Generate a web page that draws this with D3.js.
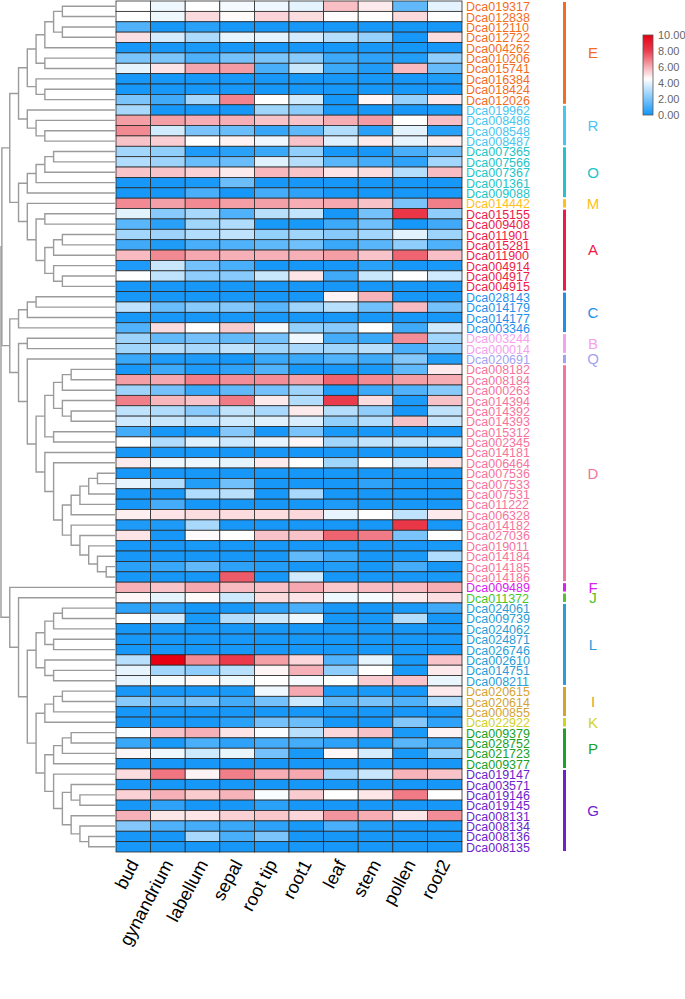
<!DOCTYPE html>
<html><head><meta charset="utf-8">
<script src="https://cdn.jsdelivr.net/npm/d3@7"></script>
<style>html,body{margin:0;padding:0;background:#fff;}svg{display:block;font-family:"Liberation Sans",Arial,sans-serif;}</style>
</head><body>
<svg id="chart" width="685" height="999"></svg>
<script>
const genes = ["Dca019317","Dca012838","Dca012110","Dca012722","Dca004262","Dca010206","Dca015741","Dca016384","Dca018424","Dca012026","Dca019962","Dca008486","Dca008548","Dca008487","Dca007365","Dca007566","Dca007367","Dca001361","Dca009088","Dca014442","Dca015155","Dca009408","Dca011901","Dca015281","Dca011900","Dca004914","Dca004917","Dca004915","Dca028143","Dca014179","Dca014177","Dca003346","Dca003244","Dca000014","Dca020691","Dca008182","Dca008184","Dca000263","Dca014394","Dca014392","Dca014393","Dca015312","Dca002345","Dca014181","Dca006464","Dca007536","Dca007533","Dca007531","Dca011222","Dca006328","Dca014182","Dca027036","Dca019011","Dca014184","Dca014185","Dca014186","Dca009489","Dca011372","Dca024061","Dca009739","Dca024062","Dca024871","Dca026746","Dca002610","Dca014751","Dca008211","Dca020615","Dca020614","Dca000855","Dca022922","Dca009379","Dca028752","Dca021723","Dca009377","Dca019147","Dca003571","Dca019146","Dca019145","Dca008131","Dca008134","Dca008136","Dca008135"];
const tissues = ["bud","gynandrium","labellum","sepal","root tip","root1","leaf","stem","pollen","root2"];
const groupNames = ["E","R","O","M","A","C","B","Q","D","F","J","L","I","K","P","G"];
const groupSizes = [10,4,5,1,8,4,2,1,21,1,1,8,3,1,4,8];
const groupColors = ["#F46C20","#48C6F0","#22C4C8","#FFC018","#EE1B48","#1F8FEA","#F6A0EE","#A2A2F2","#F7739B","#D820F2","#4CC42A","#2A9DD6","#D5A430","#D2D21E","#20A024","#6E22CC"];
const legendTicks = [0,2,4,6,8,10];
const expression = [
[4.5,4.2,4.5,4.3,4.2,4.0,5.7,4.9,1.5,4.0],
[4.5,4.2,5.2,4.6,5.3,5.15,4.55,4.5,5.2,4.5],
[1.2,0.1,0.46,0.1,0.1,0.1,0.1,0.1,0.05,0.1],
[5.1,3.7,2.9,4.06,4.0,3.7,3.1,2.5,0.1,5.15],
[0.1,0.1,0.15,0.1,0.1,0.1,0.1,0.1,0.05,0.1],
[1.97,2.0,1.14,1.86,2.0,2.24,0.8,0.53,0.3,2.35],
[4.03,5.0,6.14,6.33,1.06,3.46,0.8,0.27,5.78,1.6],
[0.1,0.1,0.1,0.1,0.1,0.1,0.1,0.1,0.1,0.25],
[0.1,0.1,0.1,0.1,0.1,0.1,0.1,0.1,0.1,0.1],
[1.97,0.87,2.8,6.75,4.5,3.6,0.1,4.67,2.5,4.93],
[2.85,0.1,0.1,0.1,2.7,2.3,0.1,0.1,0.1,0.15],
[6.3,6.3,6.04,6.0,5.6,5.6,6.04,6.33,4.5,5.68],
[6.65,3.6,1.97,1.67,0.68,1.44,3.0,0.46,3.97,0.46],
[5.63,5.4,4.5,4.74,4.22,5.6,3.87,4.9,4.03,4.82],
[2.75,2.4,0.23,0.46,0.76,2.4,0.1,0.1,1.06,1.7],
[3.0,2.66,1.67,1.67,3.91,3.1,1.37,0.95,0.53,2.75],
[5.6,5.6,5.36,4.9,5.85,5.6,5.0,5.16,3.1,5.75],
[0.1,0.1,0.15,1.7,0.1,0.1,0.1,0.1,0.1,0.1],
[0.1,0.1,1.06,0.1,0.95,0.53,0.1,0.1,0.1,0.15],
[6.65,6.26,6.65,6.3,6.26,6.04,6.12,5.63,1.97,6.84],
[3.97,2.24,2.85,1.18,3.15,3.36,0.1,1.86,8.23,2.35],
[1.37,0.46,2.7,3.0,0.15,0.15,0.8,1.78,0.1,0.87],
[2.75,2.66,3.05,3.29,2.47,2.7,2.24,2.75,3.97,2.66],
[0.87,0.25,1.06,1.18,1.48,1.78,0.76,1.37,2.35,1.14],
[5.78,6.65,6.12,5.98,5.98,5.98,6.3,5.6,7.32,5.68],
[0.23,3.46,1.86,1.06,0.1,0.1,0.1,0.46,0.1,0.15],
[4.5,3.29,2.35,2.24,3.46,5.0,0.87,3.46,4.5,3.59],
[0.1,0.1,0.1,0.1,0.1,0.1,0.1,0.1,0.1,0.1],
[0.1,0.1,0.1,0.1,0.1,0.1,4.7,5.93,0.1,0.1],
[3.29,1.67,2.24,2.16,1.37,2.66,3.15,1.78,5.78,1.86],
[0.1,0.1,0.1,0.1,0.1,0.1,0.1,0.1,0.1,0.1],
[1.18,5.16,4.5,5.46,4.31,2.47,2.24,4.5,0.87,3.59],
[2.66,1.52,1.86,1.52,1.86,4.22,0.95,0.76,6.58,2.75],
[2.7,3.1,2.85,3.29,2.7,2.85,2.7,3.15,1.06,2.24],
[0.76,0.23,0.23,0.1,0.76,0.76,1.18,0.8,2.16,0.3],
[0.1,0.8,0.23,0.53,1.18,0.1,0.1,0.15,1.48,4.9],
[6.3,6.12,6.84,6.58,6.58,6.26,7.32,6.65,6.3,6.04],
[2.66,1.86,0.76,1.52,1.86,2.66,0.23,0.8,1.18,2.24],
[6.84,5.85,5.6,6.93,4.9,3.05,8.05,5.16,0.23,5.63],
[3.29,3.0,2.24,3.29,2.85,4.9,3.1,2.35,0.1,3.29],
[3.59,3.46,3.36,3.6,3.91,3.8,2.47,3.05,5.63,3.46],
[0.95,0.1,0.1,2.16,0.1,1.97,0.15,0.1,0.1,0.1],
[4.5,3.0,3.91,3.55,4.06,4.67,2.75,3.36,3.36,3.55],
[0.1,0.1,0.1,0.1,0.1,0.1,0.1,0.1,0.1,0.1],
[4.9,4.22,4.22,4.03,4.9,4.5,2.7,4.5,3.59,5.0],
[0.1,0.1,0.1,0.1,0.1,0.1,0.1,0.1,0.1,0.1],
[4.06,3.0,0.3,1.78,0.1,0.1,0.1,0.53,0.1,0.1],
[0.1,0.1,3.0,3.15,0.1,2.85,0.1,0.1,0.1,0.1],
[0.1,0.95,0.1,0.1,0.1,0.1,0.23,0.1,0.1,0.1],
[4.82,5.0,5.16,5.16,5.16,5.23,4.06,4.5,3.29,4.9],
[0.23,0.23,2.85,0.1,0.1,0.1,0.1,0.1,8.2,0.1],
[5.0,0.1,4.57,4.5,5.63,5.63,7.32,6.93,1.97,4.5],
[0.1,0.1,0.15,0.1,0.1,0.1,0.15,0.1,0.1,0.15],
[0.1,0.1,0.1,0.1,0.1,1.52,0.76,0.1,0.15,3.0],
[0.46,0.76,1.52,0.53,0.3,0.1,0.3,0.1,0.95,0.1],
[0.1,0.1,0.1,7.49,0.1,3.6,0.1,0.1,0.1,0.15],
[5.98,5.6,6.12,5.78,5.68,6.12,5.53,5.78,5.78,6.04],
[4.67,4.03,4.6,3.55,5.16,5.0,4.18,4.31,4.9,5.1],
[0.53,0.53,0.1,0.1,0.53,1.06,0.1,0.1,0.15,0.87],
[4.5,3.68,0.15,3.05,3.55,4.22,0.1,0.1,3.05,0.1],
[0.1,0.1,0.1,0.1,0.1,0.1,0.1,0.1,0.1,0.1],
[0.1,0.1,0.1,0.1,0.1,0.1,0.1,0.1,0.1,0.1],
[0.1,0.1,0.1,0.1,0.1,0.1,0.1,0.1,0.1,0.1],
[3.15,10.0,6.65,8.1,6.3,5.25,1.18,4.03,0.15,5.6],
[4.03,2.75,2.35,3.15,4.7,5.98,2.35,4.5,0.15,4.9],
[4.06,4.31,4.6,4.18,4.5,4.31,4.5,5.45,5.6,4.1],
[0.1,0.1,0.1,0.15,4.22,6.12,0.15,0.15,0.1,4.9],
[2.24,1.7,1.97,0.95,1.86,3.55,1.52,1.97,1.18,3.0],
[0.1,0.1,0.1,0.1,0.1,0.1,0.1,0.1,0.1,0.1],
[0.1,0.1,0.1,0.46,1.86,1.7,0.1,0.1,2.16,0.53],
[4.4,5.63,5.98,5.0,4.4,3.15,5.25,5.63,0.15,4.72],
[0.76,0.15,1.06,0.53,0.95,0.95,0.53,0.2,1.37,0.76],
[4.67,4.22,3.55,4.1,1.86,0.15,4.67,3.68,0.15,2.4],
[0.1,0.1,0.1,0.1,0.1,0.1,0.1,0.1,0.1,0.1],
[5.16,7.02,4.72,6.84,6.04,6.12,2.75,3.46,5.93,5.6],
[0.1,0.1,0.1,0.1,0.1,0.1,0.1,0.1,0.1,0.1],
[5.36,5.98,5.46,5.93,4.4,5.46,4.5,4.97,6.93,4.5],
[0.1,0.53,0.1,0.1,0.46,0.1,0.1,0.1,0.1,0.1],
[5.98,4.97,5.0,5.36,5.53,5.29,6.46,6.04,4.97,6.58],
[2.16,1.14,0.95,0.76,0.53,0.15,1.06,0.3,0.1,0.15],
[0.1,0.1,2.85,1.06,1.97,0.1,0.1,0.1,0.1,0.1],
[0.1,0.1,0.1,0.1,0.1,0.1,0.1,0.1,0.1,0.1]
];
// dendrogram: [mergeHeight, left, right]; leaves are row indices
const treeE = [10,[9,[8,[7,[6,0,1],[6,2,3]],4],[8,5,6]],[9,7,[8,8,9]]];
const treeR = [10,10,[9,11,[8,12,13]]];
const treeO = [10,[9,[8,[7,14,15],16],17],18];
const treeA = [9,[8,20,21],[8,[7,[6,22,23],24],[7,25,[6,26,27]]]];
const treeTop = [12,[11,treeE,treeR],[11,treeO,[10,19,treeA]]];
const treeC = [11,[10,[9,28,29],30],31];
const treeD = [9,[8,[7,[6,[5,35,36],37],[6,38,[5,39,40]]],[7,41,42]],
  [8,43,[7,44,[6,[5,[4,[3,[2,45,46],47],48],49],[5,50,[4,51,[3,52,[2,53,[1,54,55]]]]]]]]];
const treeMid = [12,treeC,[11,[10,32,33],[10,34,treeD]]];
const treeL = [9,[8,[7,[6,58,59],60],[7,61,62]],[8,63,[7,64,65]]];
const treeIK = [8,[7,[6,66,67],68],69];
const treeP = [7,[6,[5,70,71],72],73];
const treeG = [7,74,[6,[5,75,[4,76,77]],[5,78,[4,79,[3,80,81]]]]];
const treeBot = [12,56,[11,57,[10,treeL,[9,treeIK,[8,treeP,treeG]]]]];
const tree = [13,[12.9,treeTop,treeMid],treeBot];

const svg = d3.select("#chart");
const x = d3.scaleBand().domain(tissues).range([116, 462]);
const y = d3.scaleBand().domain(genes).range([1, 852]);
const hx = d3.scaleLinear().domain([0, 13]).range([115, 1]);
const color = d3.scaleLinear().domain([0, 4.5, 6, 8, 10])
  .range(["#1296F8", "#FFFFFF", "#F6AFB6", "#EA3D4E", "#E60012"]).clamp(true);

// heatmap
const cells = [];
expression.forEach((row, i) => row.forEach((v, j) => cells.push({g: genes[i], t: tissues[j], v})));
svg.append("g").selectAll("rect").data(cells).join("rect")
  .attr("x", d => x(d.t)).attr("y", d => y(d.g))
  .attr("width", x.bandwidth()).attr("height", y.bandwidth())
  .attr("fill", d => color(d.v)).attr("stroke", "#2a2a2a").attr("stroke-width", 0.8);

// dendrogram
const dg = svg.append("g").attr("fill", "none").attr("stroke", "#9b9b9b").attr("stroke-width", 1.4);
function layout(node) {
  if (typeof node === "number") return {x: hx(0), y: y(genes[node]) + y.bandwidth() / 2};
  const [h, a, b] = node;
  const ca = layout(a), cb = layout(b), nx = hx(h);
  dg.append("path").attr("d", `M${ca.x},${ca.y}H${nx}V${cb.y}H${cb.x}`);
  return {x: nx, y: (ca.y + cb.y) / 2};
}
layout(tree);

// gene labels and groups
const rowGroup = [];
groupSizes.forEach((n, gi) => { for (let k = 0; k < n; k++) rowGroup.push(gi); });
svg.append("g").selectAll("text").data(genes).join("text")
  .attr("x", 466).attr("y", d => y(d) + y.bandwidth() / 2)
  .attr("dy", "0.4em").attr("font-size", 12.5)
  .attr("fill", (d, i) => groupColors[rowGroup[i]]).text(d => d);

let start = 0;
const gg = svg.append("g");
groupNames.forEach((name, gi) => {
  const y0 = y(genes[start]), y1 = y(genes[start + groupSizes[gi] - 1]) + y.bandwidth();
  gg.append("rect").attr("x", 563).attr("y", y0 + 1).attr("width", 3).attr("height", y1 - y0 - 2)
    .attr("fill", groupColors[gi]);
  gg.append("text").attr("x", 593).attr("y", (y0 + y1) / 2).attr("dy", "0.36em")
    .attr("text-anchor", "middle").attr("font-size", 15).attr("fill", groupColors[gi]).text(name);
  start += groupSizes[gi];
});

// column labels
svg.append("g").selectAll("text").data(tissues).join("text")
  .attr("transform", d => `translate(${x(d) + x.bandwidth() / 2 + 6},864) rotate(-62)`)
  .attr("text-anchor", "end").attr("font-size", 18).attr("fill", "#000").text(d => d);

// legend
const lg = svg.append("defs").append("linearGradient").attr("id", "lg")
  .attr("x1", 0).attr("y1", 1).attr("x2", 0).attr("y2", 0);
[0, 2, 4, 4.5, 5, 6, 7, 8, 9, 10].forEach(v => lg.append("stop").attr("offset", v / 10).attr("stop-color", color(v)));
const ly = d3.scaleLinear().domain([0, 10]).range([115, 35]);
svg.append("rect").attr("x", 643).attr("y", ly(10)).attr("width", 10).attr("height", ly(0) - ly(10))
  .attr("fill", "url(#lg)").attr("stroke", "#555").attr("stroke-width", 0.8);
svg.append("g").selectAll("text").data(legendTicks).join("text")
  .attr("x", 658).attr("y", d => ly(d)).attr("dy", "0.36em").attr("font-size", 11)
  .attr("fill", "#666").text(d => d.toFixed(2));
</script>
</body></html>
